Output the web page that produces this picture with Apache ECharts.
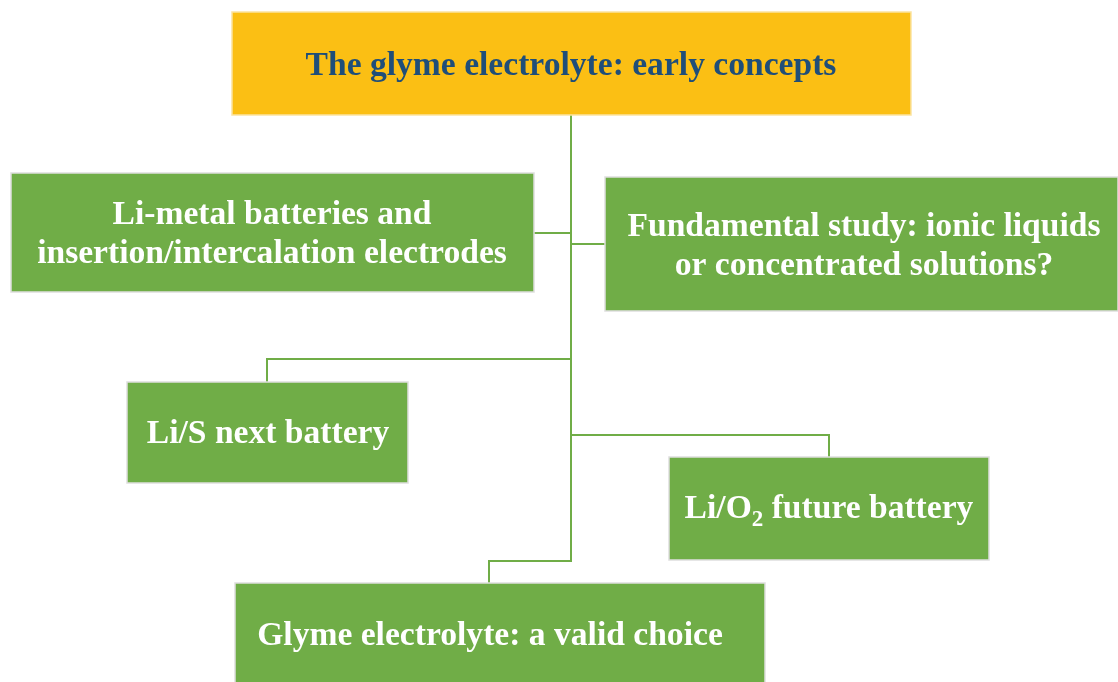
<!DOCTYPE html>
<html lang="en" style="height: 100%">
<head>
  <meta charset="utf-8">
  <script src="https://cdn.jsdelivr.net/npm/echarts@6/dist/echarts.min.js"></script>
  <style>
    body { height: 100%; margin: 0; background: #fff; }
    #main { width: 1118px; height: 682px; }
  </style>
</head>
<body>
  <div id="main"></div>
  <script>
    // diagram units = pixels of the original figure (y grows downwards)
    const boxNames = [
      'The glyme electrolyte: early concepts',
      'Li-metal batteries and\ninsertion/intercalation electrodes',
      'Fundamental study: ionic liquids\nor concentrated solutions?',
      'Li/S next battery',
      '{t|Li/O}{s|2}{t| future battery}',
      'Glyme electrolyte: a valid choice'
    ];
    const boxLeft   = [232, 11, 605, 127, 669, 235];
    const boxTop    = [12, 173, 177, 382, 457, 583];
    const boxRight  = [911, 534, 1118, 408, 989, 765];
    const boxBottom = [115, 292, 311, 483, 560, 686];
    const textX     = [571, 272, 864, 268, 829, 490];
    const textY     = [66, 235, 247, 434, 513, 636];

    // connector polylines [x, y]
    const links = [
      [[571, 115], [571, 561], [489, 561], [489, 583]],
      [[534, 233], [571, 233]],
      [[571, 244], [605, 244]],
      [[571, 359], [267, 359], [267, 382]],
      [[571, 435], [829, 435], [829, 457]]
    ];

    const boxData = boxNames.map((n, i) =>
      [boxLeft[i], boxTop[i], boxRight[i], boxBottom[i], textX[i], textY[i], n]);

    var dom = document.getElementById('main');
    var myChart = echarts.init(dom);
    var font = '"Liberation Serif", "Times New Roman", serif';
    var option = {
      backgroundColor: '#ffffff',
      animation: false,
      grid: { left: 0, right: 0, top: 0, bottom: 0 },
      xAxis: { type: 'value', min: 0, max: 1118, show: false },
      yAxis: { type: 'value', min: 0, max: 682, inverse: true, show: false },
      series: [
        {
          type: 'lines',
          coordinateSystem: 'cartesian2d',
          polyline: true,
          z: 1,
          lineStyle: { color: '#70AD47', width: 2, opacity: 1 },
          data: links.map(p => ({ coords: p }))
        },
        {
          type: 'custom',
          z: 2,
          clip: false,
          encode: { x: [0, 2, 4], y: [1, 3, 5] },
          data: boxData,
          renderItem: function (params, api) {
            var i = params.dataIndex;
            var p0 = api.coord([api.value(0), api.value(1)]);
            var p1 = api.coord([api.value(2), api.value(3)]);
            var pt = api.coord([api.value(4), api.value(5)]);
            var top = i === 0;
            return {
              type: 'group',
              children: [
                {
                  type: 'rect',
                  shape: { x: p0[0], y: p0[1], width: p1[0] - p0[0], height: p1[1] - p0[1] },
                  style: { fill: top ? '#FBBF14' : '#70AD47', stroke: top ? '#fbe3a0' : '#dedede', lineWidth: 1.5 }
                },
                {
                  type: 'text',
                  x: pt[0], y: pt[1],
                  style: {
                    text: boxData[i][6],
                    fill: top ? '#1F4E79' : '#ffffff',
                    font: 'bold 33.6px ' + font,
                    align: 'center',
                    verticalAlign: 'middle',
                    lineHeight: 39,
                    rich: {
                      t: { fontSize: 33.6, fontWeight: 'bold', fontFamily: font, fill: '#fff', lineHeight: 38, padding: [0, 0, 7, 0] },
                      s: { fontSize: 23, fontWeight: 'bold', fontFamily: font, fill: '#fff', lineHeight: 5, verticalAlign: 'bottom' }
                    }
                  }
                }
              ]
            };
          }
        }
      ]
    };
    myChart.setOption(option);
    window.addEventListener('resize', myChart.resize);
  </script>
</body>
</html>
